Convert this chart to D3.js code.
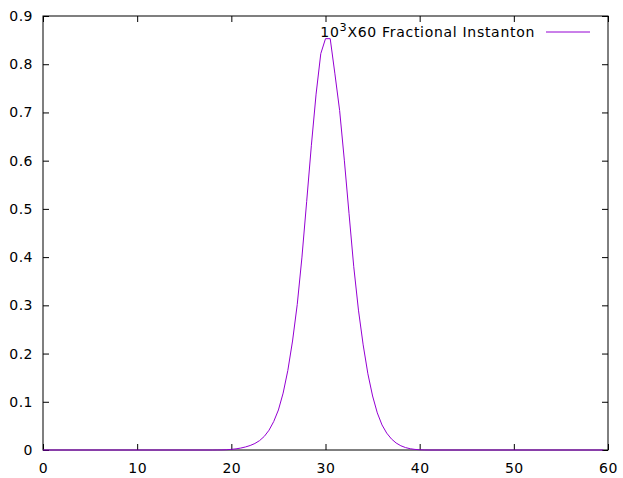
<!DOCTYPE html>
<html>
<head>
<meta charset="utf-8">
<script src="https://cdn.jsdelivr.net/npm/d3@7"></script>
<style>
  html, body { margin: 0; padding: 0; background: #fff; }
  svg { display: block; }
  text { font-family: "DejaVu Sans", sans-serif; }
</style>
</head>
<body>
<script>
// ---- data ----
const xValues = [0, 10, 18, 18.5, 19, 19.5, 20, 20.5, 21, 21.5, 22, 22.5, 23, 23.5, 24, 24.5,
  25, 25.5, 26, 26.5, 27, 27.5, 28, 28.5, 29, 29.5, 30, 30.5, 31, 31.5, 32, 32.5,
  33, 33.5, 34, 34.5, 35, 35.5, 36, 36.5, 37, 37.5, 38, 38.5, 39, 39.5, 40, 40.5, 41, 50, 59.5];
const yValues = [0, 0, 0, 0.0001, 0.0002, 0.0006, 0.0013, 0.0024, 0.0040, 0.0063, 0.0093, 0.0135, 0.0195, 0.0282, 0.0410, 0.059,
  0.083, 0.118, 0.165, 0.226, 0.302, 0.400, 0.515, 0.632, 0.738, 0.822, 0.853, 0.853, 0.780, 0.704, 0.601, 0.490,
  0.380, 0.290, 0.218, 0.158, 0.112, 0.077, 0.052, 0.035, 0.023, 0.0145, 0.0088, 0.0050, 0.0026, 0.0012, 0.0005, 0.0001, 0, 0, 0];
const xTicks = [0, 10, 20, 30, 40, 50, 60];
const yTicks = [0, 0.1, 0.2, 0.3, 0.4, 0.5, 0.6, 0.7, 0.8, 0.9];
const yTickLabels = ["0", "0.1", "0.2", "0.3", "0.4", "0.5", "0.6", "0.7", "0.8", "0.9"];
const seriesName = ["10", "3", "X60 Fractional Instanton"];
const lineColor = "#9400D3";

// ---- layout ----
const W = 623, H = 478;
const L = 43, R = 608, T = 16, B = 450;
const fontSize = 14;

const svg = d3.select("body").append("svg").attr("width", W).attr("height", H);

const x = d3.scaleLinear().domain([0, 60]).range([L, R]);
const y = d3.scaleLinear().domain([0, 0.9]).range([B, T]);

const tickLen = 6;

const gl = svg.append("g").attr("transform", `translate(${L},0)`)
  .call(d3.axisLeft(y).tickValues(yTicks).tickFormat((d, i) => yTickLabels[i]).tickSize(-tickLen).tickPadding(10));
const gb = svg.append("g").attr("transform", `translate(0,${B})`)
  .call(d3.axisBottom(x).tickValues(xTicks).tickFormat(d3.format("d")).tickSize(-tickLen).tickPadding(13));
const gt = svg.append("g").attr("transform", `translate(0,${T})`)
  .call(d3.axisTop(x).tickValues(xTicks).tickFormat("").tickSize(-tickLen));
const gr = svg.append("g").attr("transform", `translate(${R},0)`)
  .call(d3.axisRight(y).tickValues(yTicks).tickFormat("").tickSize(-tickLen));

[gl, gb, gt, gr].forEach(g => {
  g.select(".domain").remove();
  g.selectAll(".tick line").attr("stroke", "#000").attr("stroke-width", 1);
  g.selectAll("text").attr("font-size", fontSize).attr("fill", "#000")
    .attr("font-family", "DejaVu Sans, sans-serif").attr("letter-spacing", 0.5);
});

svg.append("rect").attr("x", L).attr("y", T).attr("width", R - L).attr("height", B - T)
  .attr("fill", "none").attr("stroke", "#000").attr("stroke-width", 1);

const pts = xValues.map((v, i) => [v, yValues[i]]);
svg.append("path").datum(pts)
  .attr("fill", "none").attr("stroke", lineColor).attr("stroke-width", 1)
  .attr("d", d3.line().x(d => x(d[0])).y(d => y(d[1])));

const lt = svg.append("text").attr("x", 535).attr("y", 37).attr("text-anchor", "end")
  .attr("font-size", fontSize).attr("fill", "#000").attr("letter-spacing", 0.7);
lt.append("tspan").text(seriesName[0]);
lt.append("tspan").attr("dy", -6).attr("font-size", fontSize * 0.8).text(seriesName[1]);
lt.append("tspan").attr("dy", 6).text(seriesName[2]);
svg.append("line").attr("x1", 546).attr("x2", 590).attr("y1", 32).attr("y2", 32)
  .attr("stroke", lineColor).attr("stroke-width", 1);
</script>
</body>
</html>
